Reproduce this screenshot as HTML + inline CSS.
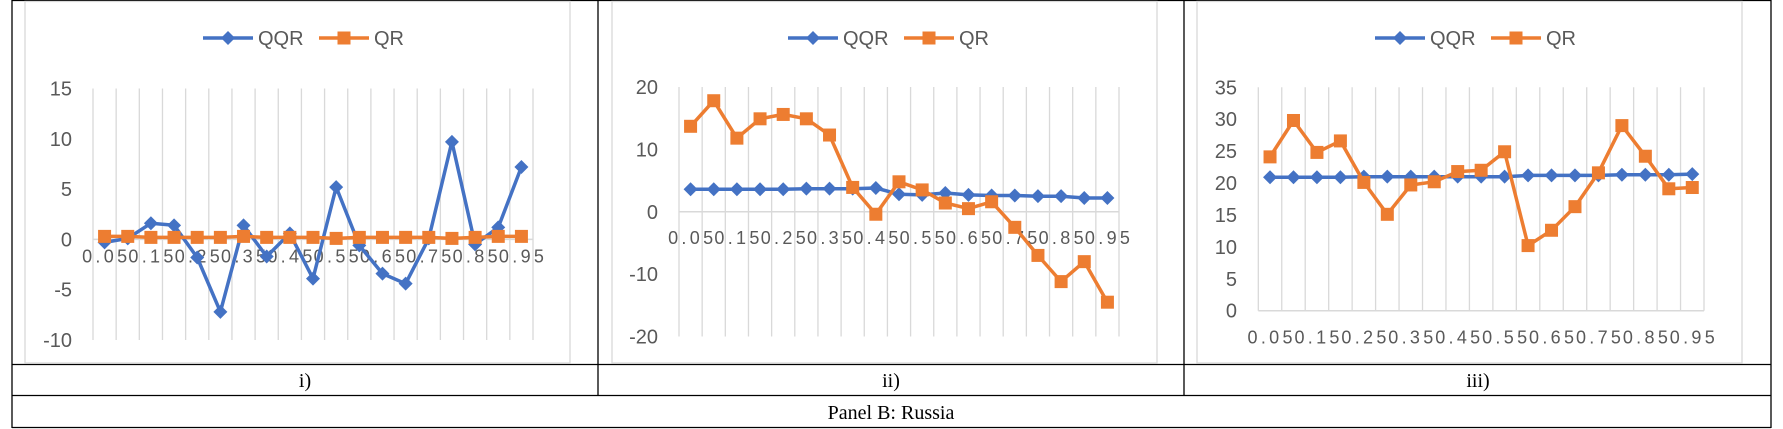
<!DOCTYPE html>
<html><head><meta charset="utf-8"><style>
html,body{margin:0;padding:0;background:#fff;}
svg{display:block;}
</style></head><body>
<svg id="root" width="1783" height="429" viewBox="0 0 1783 429" xmlns="http://www.w3.org/2000/svg">
  <g id="table" stroke="#000" stroke-width="1.3">
    <line x1="12" y1="0.5" x2="1771" y2="0.5"/>
    <line x1="12" y1="0" x2="12" y2="428"/>
    <line x1="1771" y1="0" x2="1771" y2="428"/>
    <line x1="598" y1="0" x2="598" y2="395"/>
    <line x1="1184" y1="0" x2="1184" y2="395"/>
    <line x1="12" y1="364.5" x2="1771" y2="364.5"/>
    <line x1="12" y1="395.5" x2="1771" y2="395.5"/>
    <line x1="12" y1="427.5" x2="1771" y2="427.5"/>
  </g>
  <g font-family="'Liberation Serif', serif" font-size="20" fill="#000" text-anchor="middle">
    <text x="305" y="387">i)</text>
    <text x="891" y="387">ii)</text>
    <text x="1478" y="387">iii)</text>
    <text x="891" y="419">Panel B: Russia</text>
  </g>
  <g id="charts"></g>
</svg>
<script>
const categories = ["0.05","0.1","0.15","0.2","0.25","0.3","0.35","0.4","0.45","0.5","0.55","0.6","0.65","0.7","0.75","0.8","0.85","0.9","0.95"];
const qqrI = [-0.3,0.1,1.6,1.4,-1.8,-7.2,1.4,-1.7,0.6,-3.9,5.2,-0.6,-3.4,-4.4,0.1,9.7,-0.5,1.2,7.2];
const qrI  = [0.3,0.3,0.2,0.2,0.2,0.2,0.3,0.2,0.2,0.2,0.1,0.2,0.2,0.2,0.2,0.1,0.2,0.3,0.3];
const qqrII = [3.6,3.6,3.6,3.6,3.6,3.7,3.7,3.7,3.8,2.8,2.7,3.0,2.7,2.6,2.6,2.5,2.5,2.2,2.2];
const qrII  = [13.7,17.8,11.8,14.9,15.6,14.9,12.3,3.9,-0.4,4.8,3.5,1.4,0.5,1.6,-2.5,-7.0,-11.2,-8.0,-14.5];
const qqrIII = [20.9,20.9,20.9,20.9,21.0,21.0,21.0,21.0,21.0,21.0,21.0,21.2,21.2,21.2,21.2,21.3,21.3,21.3,21.4];
const qrIII  = [24.1,29.8,24.8,26.6,20.1,15.1,19.7,20.2,21.8,22.0,24.9,10.2,12.6,16.3,21.6,29.0,24.2,19.1,19.3];
const ticksI = [15,10,5,0,-5,-10];
const ticksII = [20,10,0,-10,-20];
const ticksIII = [35,30,25,20,15,10,5,0];

const NS = "http://www.w3.org/2000/svg";
const root = document.getElementById('charts');
function mk(tag, attrs, parent){
  const e = document.createElementNS(NS, tag);
  for (const k in attrs) e.setAttribute(k, attrs[k]);
  (parent||root).appendChild(e);
  return e;
}
const BLUE="#4472C4", ORANGE="#ED7D31", GRID="#D9D9D9", TXT="#595959";

function drawChart(cfg){
  const g = mk('g', {});
  
  
  const area = mk('rect', {x:cfg.ax0, y:1.5, width:cfg.ax1-cfg.ax0, height:363-1.5, fill:'#fff', stroke:GRID, 'stroke-width':1.3}, g);
  
  
  const max = cfg.ticks[0], min = cfg.ticks[cfg.ticks.length-1];
  const y = v => cfg.top + (max - v)/(max - min)*(cfg.bot - cfg.top);
  const n = categories.length;
  const step = (cfg.gx1 - cfg.gx0)/n;
  const x = i => cfg.gx0 + step*(i+0.5);
  for (let i=0;i<=n;i++){
    const l = mk('line', {x1:cfg.gx0+step*i, x2:cfg.gx0+step*i, y1:cfg.top, y2:cfg.bot, stroke:GRID, 'stroke-width':1.3}, g);
    
    
  }
  const ax = mk('line', {x1:cfg.gx0, x2:cfg.gx1, y1:y(0), y2:y(0), stroke:GRID, 'stroke-width':1.5}, g);
  
  
  cfg.ticks.forEach(t=>{
    const tx = mk('text', {x:cfg.yLabelX, y:y(t)+7, 'text-anchor':'end', 'font-family':"'Liberation Sans', sans-serif", 'font-size':20, fill:TXT}, g);
    tx.textContent = String(t);
    
    
  });
  for (let i=0;i<n;i+=2){
    const tx = mk('text', {x:x(i), y:y(0)+cfg.labOff, 'text-anchor':'middle', 'font-family':"'Liberation Sans', sans-serif", 'font-size':18, fill:TXT, textLength:45, lengthAdjust:'spacing'}, g);
    tx.textContent = categories[i];
    
    
  }
  function series(vals, color, shape, nm){
    const sg = mk('g', {}, g);
    
    
    const pts = vals.map((v,i)=>x(i).toFixed(1)+','+y(v).toFixed(1)).join(' ');
    const pl = mk('polyline', {points:pts, fill:'none', stroke:color, 'stroke-width':3.5, 'stroke-linejoin':'round'}, sg);
    
    
    vals.forEach((v,i)=>{
      const cx=x(i), cy=y(v);
      let m;
      if (shape==='d') m = mk('polygon', {points:`${cx},${cy-7} ${cx+7},${cy} ${cx},${cy+7} ${cx-7},${cy}`, fill:color}, sg);
      else m = mk('rect', {x:cx-6.5, y:cy-6.5, width:13, height:13, fill:color}, sg);
      
      
    });
  }
  series(cfg.qqr, BLUE, 'd', 'qqr-series');
  series(cfg.qr, ORANGE, 's', 'qr-series');
  const lg = mk('g', {}, g);
  
  
  const L = cfg.leg, ly = 38;
  mk('line', {x1:L, x2:L+50, y1:ly, y2:ly, stroke:BLUE, 'stroke-width':3.5}, lg);
  mk('polygon', {points:`${L+25},${ly-7} ${L+32},${ly} ${L+25},${ly+7} ${L+18},${ly}`, fill:BLUE}, lg);
  const t1 = mk('text', {x:L+55, y:ly+7, 'font-family':"'Liberation Sans', sans-serif", 'font-size':20, fill:TXT}, lg);
  t1.textContent='QQR';
  
  
  const L2 = L+116;
  mk('line', {x1:L2, x2:L2+50, y1:ly, y2:ly, stroke:ORANGE, 'stroke-width':3.5}, lg);
  mk('rect', {x:L2+18.5, y:ly-6.5, width:13, height:13, fill:ORANGE}, lg);
  const t2 = mk('text', {x:L2+55, y:ly+7, 'font-family':"'Liberation Sans', sans-serif", 'font-size':20, fill:TXT}, lg);
  t2.textContent='QR';
  
  
}

drawChart({name:'chart-i', ax0:25, ax1:570, gx0:93, gx1:533, top:88.5, bot:340, ticks:ticksI, yLabelX:72, labOff:23, qqr:qqrI, qr:qrI, leg:203});
drawChart({name:'chart-ii', ax0:612, ax1:1157, gx0:679, gx1:1119, top:87, bot:336.5, ticks:ticksII, yLabelX:658, labOff:32, qqr:qqrII, qr:qrII, leg:788});
drawChart({name:'chart-iii', ax0:1197, ax1:1742, gx0:1258.3, gx1:1704, top:87.3, bot:310.7, ticks:ticksIII, yLabelX:1237, labOff:33, qqr:qqrIII, qr:qrIII, leg:1375});
</script>
</body></html>
